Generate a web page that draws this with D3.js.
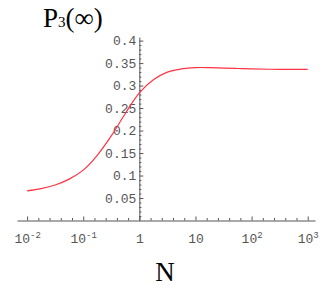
<!DOCTYPE html>
<html lang="en">
<head>
<meta charset="UTF-8">
<title>P3 vs N</title>
<script src="https://cdn.jsdelivr.net/npm/d3@7"></script>
<style>
  body { margin: 0; background: #fff; }
  .tick text { font-family: "Liberation Mono", "Courier New", monospace; font-size: 13px; fill: #555; }
  .domain { stroke: #555; }
  .tick line { stroke: #555; }
</style>
</head>
<body>
<script>
// values (N on log scale, every quarter decade)
var nValues = [0.01, 0.0178, 0.0316, 0.0562, 0.1, 0.178, 0.316, 0.562, 1, 1.78, 3.16, 5.62, 10, 17.8, 31.6, 56.2, 100, 316, 1000];
var pValues = [0.066, 0.071, 0.079, 0.092, 0.112, 0.145, 0.188, 0.238, 0.284, 0.313, 0.330, 0.337, 0.340, 0.340, 0.339, 0.338, 0.337, 0.336, 0.336];

var xMajor = [0.01, 0.1, 1, 10, 100, 1000];
var xLabels = [["10", "-2"], ["10", "-1"], ["1", ""], ["10", ""], ["10", "2"], ["10", "3"]];
var yMajor = [0.05, 0.1, 0.15, 0.2, 0.25, 0.3, 0.35, 0.4];
var yLabels = ["0.05", "0.1", "0.15", "0.2", "0.25", "0.3", "0.35", "0.4"];

var w = 333, h = 289;
var svg = d3.select("body").append("svg")
    .attr("width", w)
    .attr("height", h);

var x = d3.scaleLog()
    .domain([Math.pow(10, -2.18), Math.pow(10, 3.13)])
    .range([17, 315]);
var y = d3.scaleLinear()
    .domain([0, 0.408])
    .range([220.5, 37]);

// minor ticks every 0.2 decade, every 0.01 on y
var xMinor = [];
for (var e = -2; e < 3; e++)
    for (var k = 1; k < 5; k++) xMinor.push(Math.pow(10, e + k * 0.2));
var yMinor = d3.range(1, 41).map(function (i) { return i / 100; })
    .filter(function (v) { return Math.round(v * 100) % 5 != 0; });

var x0 = 220.5, y0 = x(1);

// x axis (crosses at y = 0)
svg.append("g")
    .attr("transform", "translate(0," + x0 + ")")
    .call(d3.axisBottom(x).tickValues(xMinor).tickSize(-2.5).tickFormat(""))
    .call(function (g) { g.select(".domain").remove(); });
var xg = svg.append("g")
    .attr("transform", "translate(0," + x0 + ")")
    .call(d3.axisBottom(x).tickValues(xMajor).tickSize(-4).tickSizeOuter(0).tickPadding(13)
        .tickFormat(function (d, i) { return xLabels[i][0]; }));
xg.selectAll(".tick text").each(function (d, i) {
    var sup = xLabels[i][1];
    if (sup) {
        d3.select(this).append("tspan")
            .attr("dy", "-0.55em")
            .style("font-size", "9px")
            .text(sup);
    }
});

// y axis (crosses at N = 1)
svg.append("g")
    .attr("transform", "translate(" + y0 + ",0)")
    .call(d3.axisLeft(y).tickValues(yMinor).tickSize(-2).tickFormat(""))
    .call(function (g) { g.select(".domain").remove(); });
svg.append("g")
    .attr("transform", "translate(" + y0 + ",0)")
    .call(d3.axisLeft(y).tickValues(yMajor).tickSize(-4).tickSizeOuter(0).tickPadding(3)
        .tickFormat(function (d, i) { return yLabels[i]; }));

// curve
var line = d3.line()
    .x(function (d, i) { return x(nValues[i]); })
    .y(function (d) { return y(d); })
    .curve(d3.curveCatmullRom.alpha(0.5));
svg.append("path")
    .datum(pValues)
    .attr("d", line)
    .attr("fill", "none")
    .attr("stroke", "#ff3344")
    .attr("stroke-width", 1.2);

// axis titles
var title = svg.append("text")
    .attr("x", 43)
    .attr("y", 27)
    .style("font-family", "Liberation Serif, Times New Roman, serif")
    .style("font-size", "27px")
    .attr("fill", "#000");
title.append("tspan").text("P");
title.append("tspan").style("font-size", "15px").text("3");
title.append("tspan").text("(∞)");

svg.append("text")
    .attr("x", 165)
    .attr("y", 281)
    .attr("text-anchor", "middle")
    .style("font-family", "Liberation Serif, Times New Roman, serif")
    .style("font-size", "27px")
    .attr("fill", "#000")
    .text("N");
</script>
</body>
</html>
